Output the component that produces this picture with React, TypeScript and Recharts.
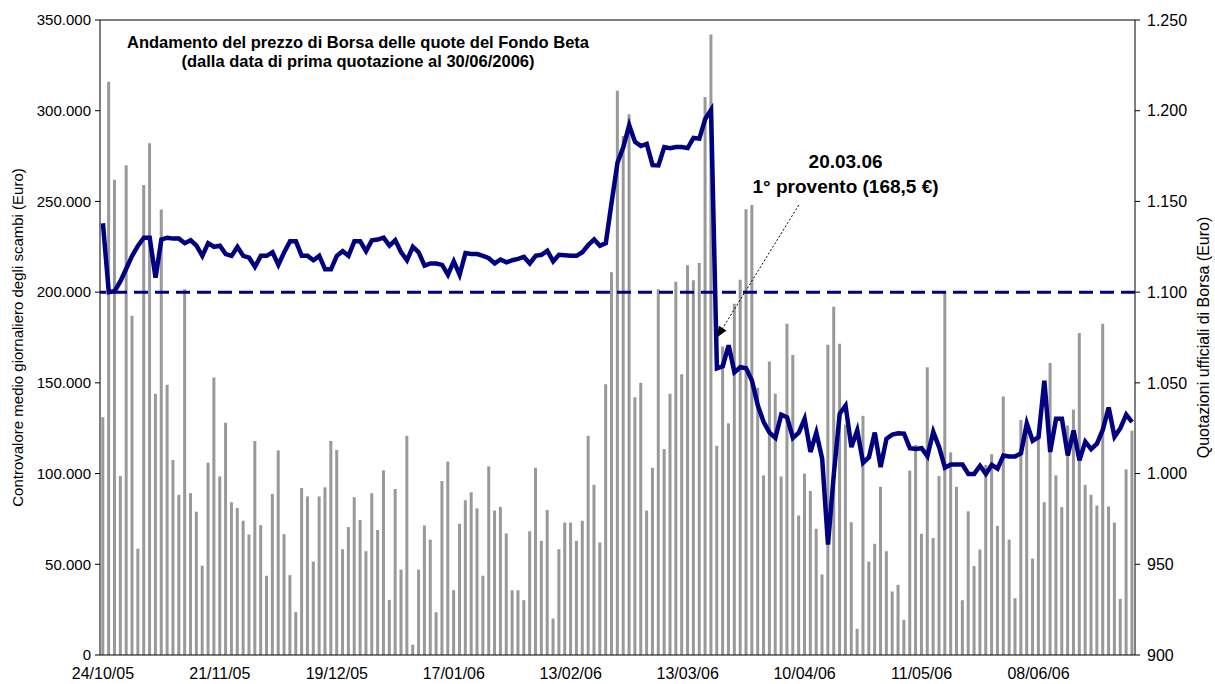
import { ComposedChart, Bar, Line, XAxis, YAxis, ReferenceLine, ReferenceDot } from "recharts"

const FONT = "'Liberation Sans', Arial, sans-serif"

// etichette dell'asse X (una ogni 20 sedute)
const tickLabels = ["24/10/05", "21/11/05", "19/12/05", "17/01/06", "13/02/06", "13/03/06", "10/04/06", "11/05/06", "08/06/06"]
const volumeTicks = [0, 50000, 100000, 150000, 200000, 250000, 300000, 350000]
const priceTicks = [900, 950, 1000, 1050, 1100, 1150, 1200, 1250]

// controvalore medio giornaliero degli scambi (Euro)
const volume = [
  131100, 316000, 262000, 98600, 270000, 187000, 58600, 259000, 282000, 144000,
  245500, 149000, 107500, 88300, 201600, 89200, 79000, 49200, 106000, 153000,
  98400, 128000, 84200, 81000, 74000, 66400, 118000, 71600, 43700, 88800,
  112800, 66600, 44000, 23600, 92000, 87400, 51500, 87400, 92400, 118000,
  113000, 58300, 70500, 87000, 74400, 57200, 89200, 68900, 101800, 30400,
  91500, 47100, 120800, 5700, 47100, 71400, 63600, 23600, 95900, 106600,
  35700, 72300, 85300, 89700, 80800, 43700, 104000, 79600, 81700, 67000,
  35700, 35700, 30200, 68200, 103200, 62900, 79900, 20100, 58300, 73000,
  73000, 62900, 74000, 120800, 93800, 62000, 149200, 211000, 311000, 286000,
  298000, 142000, 150000, 79600, 103200, 201600, 113500, 144000, 205700, 154700,
  214800, 206600, 216000, 307500, 342000, 115300, 170000, 127700, 193600, 206800,
  245700, 248000, 147300, 99000, 161800, 144000, 98400, 182600, 165400, 76900,
  100000, 90400, 69600, 44400, 171000, 192000, 171600, 127000, 73200, 14400,
  131800, 51500, 61300, 92700, 57200, 35000, 38700, 19400, 101600, 115800,
  66800, 158600, 64500, 98600, 200000, 111700, 92700, 30200, 79200, 49000,
  58100, 104800, 110700, 71200, 142500, 63600, 31300, 129500, 126000, 53100,
  119200, 84200, 161000, 99000, 81500, 126500, 135200, 177500, 93800, 88300,
  82400, 182600, 81900, 73000, 30900, 102300, 123600,
]

// quotazioni ufficiali di Borsa (Euro)
const price = [
  1138, 1100, 1100.5, 1106, 1113, 1120, 1125.6, 1130, 1130, 1108,
  1129, 1130, 1129.5, 1129.5, 1127, 1128.6, 1125.6, 1120, 1127, 1125,
  1125.6, 1121, 1120, 1125, 1120, 1119, 1114, 1120, 1120, 1122,
  1115, 1122, 1128, 1128, 1120, 1120, 1117.6, 1120, 1112.6, 1112.6,
  1120, 1122.6, 1120, 1128, 1128, 1122.6, 1128.6, 1129, 1130, 1125.6,
  1128.6, 1122, 1117.6, 1125, 1122, 1114.6, 1115.8, 1115.8, 1115, 1109.6,
  1117, 1109.6, 1121.5, 1121, 1121, 1120, 1118.7, 1115.8, 1118, 1116.4,
  1117.6, 1118.3, 1119.4, 1115.8, 1120, 1120.6, 1122.8, 1117, 1120.6, 1120.3,
  1120, 1120, 1122, 1126, 1129, 1125.6, 1127, 1149.6, 1171.4, 1180,
  1192, 1182.8, 1180.5, 1181.7, 1170, 1169.8, 1180, 1179.4, 1180, 1180,
  1179.4, 1185, 1184.6, 1195.4, 1200.4, 1058, 1059.2, 1070.7, 1055.8, 1058.6,
  1058, 1051.2, 1037.5, 1028.4, 1022.6, 1019.7, 1032.5, 1031, 1019.7, 1022.6,
  1030.2, 1011.9, 1022.6, 1008.2, 960.9, 1000, 1033, 1037.5, 1014.6, 1023.8,
  1006, 1009, 1022.6, 1003.6, 1019.2, 1021.5, 1022.2, 1022, 1014, 1013.5,
  1014, 1009.6, 1023, 1014.6, 1003.2, 1005, 1005, 1005, 999.8, 999.8,
  1004.3, 999.8, 1004.8, 1002.7, 1010, 1009.4, 1009.4, 1011.2, 1027.7, 1018,
  1020, 1051.2, 1011.9, 1030.2, 1030.2, 1010, 1023.8, 1007.3, 1017.6, 1013.5,
  1016.5, 1024.2, 1036.4, 1020.3, 1025, 1032.5, 1028.4,
]

const data = volume.map((v, i) => ({ i, volume: v, price: price[i] }))

// separatore delle migliaia all'italiana
const fmt = (v: number) => String(Math.round(v)).replace(/\B(?=(\d{3})+(?!\d))/g, ".")

const NoteText = ({ cx, cy }: any) => (
  <text x={cx} y={cy} textAnchor="middle" fontSize={19} fontWeight="bold" fontFamily={FONT} fill="#000">
    <tspan x={cx} dy="-0.5em">20.03.06</tspan>
    <tspan x={cx} dy="1.3em">1° provento (168,5 €)</tspan>
  </text>
)

// punta della freccia, orientata come il segmento tratteggiato
const ArrowHead = ({ cx, cy }: any) => {
  const ux = -0.526, uy = 0.853
  const bx = cx - ux * 11, by = cy - uy * 11
  const px = uy * 4.5, py = -ux * 4.5
  return <polygon points={`${cx},${cy} ${bx + px},${by + py} ${bx - px},${by - py}`} fill="#000" />
}

export default function App() {
  return (
    <div style={{ position: "absolute", left: 0, top: 0, width: 1215, height: 684, background: "#fff", fontFamily: FONT }}>
      <ComposedChart width={1215} height={684} data={data} margin={{ top: 20, right: 0, bottom: 0, left: 0 }} barCategoryGap="22%">
        <XAxis
          dataKey="i"
          interval={19}
          tickFormatter={(v) => tickLabels[Math.round(Number(v) / 20)] ?? ""}
          tickLine={false}
          tickMargin={7}
          axisLine={{ stroke: "#000" }}
          tick={{ fontSize: 16, fill: "#000", fontFamily: FONT }}
          height={29}
        />
        <YAxis
          yAxisId="left"
          width={100}
          domain={[0, 350000]}
          ticks={volumeTicks}
          tickFormatter={fmt}
          tick={{ fontSize: 15, fill: "#000", fontFamily: FONT }}
          tickSize={5}
          tickMargin={4}
          axisLine={{ stroke: "#000" }}
          tickLine={{ stroke: "#000" }}
          label={{
            value: "Controvalore medio giornaliero degli scambi (Euro)",
            angle: -90,
            position: "insideLeft",
            offset: 18,
            style: { textAnchor: "middle", fontSize: 15, fill: "#000", fontFamily: FONT },
          }}
        />
        <YAxis
          yAxisId="right"
          orientation="right"
          width={80}
          domain={[900, 1250]}
          ticks={priceTicks}
          tickFormatter={fmt}
          tick={{ fontSize: 16, fill: "#000", fontFamily: FONT }}
          tickSize={5}
          tickMargin={7}
          axisLine={{ stroke: "#000" }}
          tickLine={{ stroke: "#000" }}
          label={{
            value: "Quotazioni ufficiali di Borsa (Euro)",
            angle: -90,
            position: "insideRight",
            offset: 12,
            style: { textAnchor: "middle", fontSize: 16, fill: "#000", fontFamily: FONT },
          }}
        />
        <ReferenceLine yAxisId="left" y={350000} stroke="#000" />
        <Bar yAxisId="left" dataKey="volume" fill="#999999" isAnimationActive={false} />
        <ReferenceLine yAxisId="right" y={1100} stroke="#000080" strokeWidth={3} strokeDasharray="14 7" />
        <Line yAxisId="right" type="linear" dataKey="price" stroke="#000080" strokeWidth={4.5} dot={false} isAnimationActive={false} />
        <ReferenceLine
          yAxisId="right"
          segment={[{ x: 119, y: 1148 }, { x: 105, y: 1075 }]}
          stroke="#000"
          strokeDasharray="2 2"
        />
        <ReferenceDot yAxisId="right" x={105} y={1075} r={0} shape={ArrowHead} />
        <ReferenceDot yAxisId="right" x={127} y={1163} r={0} shape={NoteText} />
      </ComposedChart>
      <div
        style={{
          position: "absolute",
          left: 108,
          top: 33,
          width: 500,
          textAlign: "center",
          fontWeight: "bold",
          fontSize: 16.5,
          lineHeight: "19px",
          color: "#000",
        }}
      >
        Andamento del prezzo di Borsa delle quote del Fondo Beta
        <br />
        (dalla data di prima quotazione al 30/06/2006)
      </div>
    </div>
  )
}
